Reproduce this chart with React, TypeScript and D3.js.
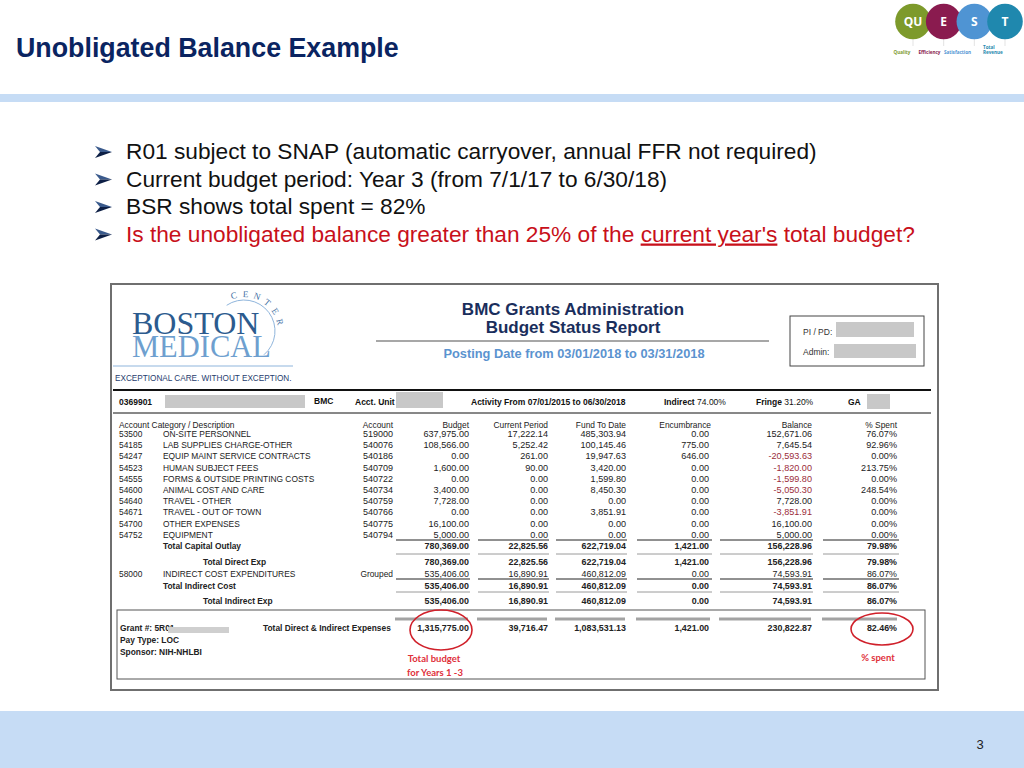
import * as d3 from 'd3'

// slide text
const bullets = [
  'R01 subject to SNAP (automatic carryover, annual FFR not required)',
  'Current budget period: Year 3 (from 7/1/17 to 6/30/18)',
  'BSR shows total spent = 82%',
]
const question = ['Is the unobligated balance greater than 25% of the ', "current year's", ' total budget?']

// report detail rows
const codes = ['53500', '54185', '54247', '54523', '54555', '54600', '54640', '54671', '54700', '54752']
const descriptions = [
  'ON-SITE PERSONNEL', 'LAB SUPPLIES CHARGE-OTHER', 'EQUIP MAINT SERVICE CONTRACTS', 'HUMAN SUBJECT FEES',
  'FORMS & OUTSIDE PRINTING COSTS', 'ANIMAL COST AND CARE', 'TRAVEL - OTHER', 'TRAVEL - OUT OF TOWN',
  'OTHER EXPENSES', 'EQUIPMENT',
]
const accounts = ['519000', '540076', '540186', '540709', '540722', '540734', '540759', '540766', '540775', '540794']
const budget = [637975, 108566, 0, 1600, 0, 3400, 7728, 0, 16100, 5000]
const currentPeriod = [17222.14, 5252.42, 261, 90, 0, 0, 0, 0, 0, 0]
const fundToDate = [485303.94, 100145.46, 19947.63, 3420, 1599.8, 8450.3, 0, 3851.91, 0, 0]
const encumbrance = [0, 775, 646, 0, 0, 0, 0, 0, 0, 0]
const balance = [152671.06, 7645.54, -20593.63, -1820, -1599.8, -5050.3, 7728, -3851.91, 16100, 5000]
const pctSpent = [76.07, 92.96, 0, 213.75, 0, 248.54, 0, 0, 0, 0]

// summary rows
const summaryLabels = ['Total Capital Outlay', 'Total Direct Exp', 'INDIRECT COST EXPENDITURES', 'Total Indirect Cost', 'Total Indirect Exp']
const summaryBudget = [780369, 780369, 535406, 535406, 535406]
const summaryCurrent = [22825.56, 22825.56, 16890.91, 16890.91, 16890.91]
const summaryFund = [622719.04, 622719.04, 460812.09, 460812.09, 460812.09]
const summaryEnc = [1421, 1421, 0, 0, 0]
const summaryBal = [156228.96, 156228.96, 74593.91, 74593.91, 74593.91]
const summaryPct = [79.98, 79.98, 86.07, 86.07, 86.07]

// grand total
const grandTotal = [1315775, 39716.47, 1083531.13, 1421, 230822.87, 82.46]

const columns = ['budget', 'current', 'fund', 'enc', 'bal', 'pct']
const columnHeaders = ['Budget', 'Current Period', 'Fund To Date', 'Encumbrance', 'Balance', '% Spent']

const questLetters = ['QU', 'E', 'S', 'T']
const questLabels = ['Quality', 'Efficiency', 'Satisfaction', 'Total Revenue']
const questColors = ['#7d9a2b', '#8a1b4f', '#4f94d3', '#1f88ae']

const SANS = 'Liberation Sans, Arial, sans-serif'
const num = d3.formatLocale({ decimal: '.', thousands: ',', grouping: [3], currency: ['$', ''], minus: '-' }).format(',.2f')
const pct = (v: number) => d3.format('.2f')(v) + '%'

export default function App() {
  // column right edges and underline spans
  const colX = d3.scaleOrdinal<string, number>().domain(columns).range([469, 548, 626, 709, 812, 897])
  const colStart = d3.scaleOrdinal<string, number>().domain(columns).range([396, 478, 556, 637, 720, 823])
  const colEnd = d3.scaleOrdinal<string, number>().domain(columns).range([470, 549, 627, 712, 813, 899])
  const rowY = d3.scaleLinear().domain([0, 1]).range([437, 448.2])
  const summarySlot = [10, 11.43, 12.5, 13.53, 14.87]
  const bulletY = d3.scaleLinear().domain([0, 1]).range([159, 186.5])
  const questX = d3.scalePoint<string>().domain(questLetters).range([913, 1005])
  const labelX = d3.scaleOrdinal<string, number>().domain(questLabels).range([902, 929.5, 957.5, 983])

  const detailCols = [budget, currentPeriod, fundToDate, encumbrance, balance]
  const summaryCols = [summaryBudget, summaryCurrent, summaryFund, summaryEnc, summaryBal]

  const arrow = (y: number) => {
    const x0 = 95
    return (
      <g key={'a' + y}>
        <path d={`M${x0},${y - 13} L${x0 + 17},${y - 7} L${x0 + 5},${y - 7} Z`} fill="#3a5a8c" />
        <path d={`M${x0 + 5},${y - 7} L${x0 + 17},${y - 7} L${x0},${y - 1} Z`} fill="#0d1f45" />
      </g>
    )
  }

  // CENTER arc
  const cx = 244, cy = 331
  const arcPath = d3.path()
  arcPath.arc(cx, cy, 31, (-124 * Math.PI) / 180, (50 * Math.PI) / 180)
  const centerLetters = 'CENTER'.split('')
  const letterAngle = d3.scaleLinear().domain([0, 5]).range([-106, -14])

  return (
    <svg width={1024} height={768} style={{ position: 'absolute', left: 0, top: 0, background: '#fff' }} fontFamily={SANS}>
      {/* header */}
      <text x={16} y={57} fontSize={26.8} fontWeight="bold" fill="#0a2461">Unobligated Balance Example</text>
      <rect x={0} y={94} width={1024} height={8} fill="#c6dcf5" />

      {/* QUEST logo */}
      {questLetters.map((q, i) => (
        <g key={q}>
          <line x1={questX(q)!} x2={questX(q)!} y1={30} y2={46} stroke="#d0d0d0" strokeWidth={0.6} />
          <circle cx={questX(q)!} cy={21.5} r={17.8} fill={questColors[i]} />
          <text x={questX(q)!} y={26} textAnchor="middle" fontFamily="Open Sans, sans-serif" fontSize={12} fontWeight="bold" fill="#fff">{q}</text>
        </g>
      ))}
      {questLabels.map((l, i) => {
        const x = labelX(l)
        return l === 'Total Revenue' ? (
          <text key={l} x={x} y={48.5} fontSize={4.6} fill={questColors[i]} fontFamily="Open Sans, sans-serif" fontWeight="bold">
            <tspan x={x}>Total</tspan><tspan x={x} dy={5.3}>Revenue</tspan>
          </text>
        ) : (
          <text key={l} x={x} y={54} textAnchor="middle" fontSize={4.6} fill={questColors[i]} fontFamily="Open Sans, sans-serif" fontWeight="bold">{l}</text>
        )
      })}

      {/* bullets */}
      {bullets.map((b, i) => (
        <g key={b}>
          {arrow(bulletY(i))}
          <text x={126} y={bulletY(i)} fontSize={22.7} fill="#111">{b}</text>
        </g>
      ))}
      {arrow(bulletY(3))}
      <text x={126} y={bulletY(3)} fontSize={22.7} fill="#c8101a">
        <tspan>{question[0]}</tspan>
        <tspan textDecoration="underline">{question[1]}</tspan>
        <tspan>{question[2]}</tspan>
      </text>

      {/* report image */}
      <rect x={111} y={284} width={827} height={406} fill="#fff" stroke="#6f6f6f" strokeWidth={2} />

      {/* Boston Medical logo */}
      <path d={arcPath.toString()} fill="none" stroke="#8fb5dc" strokeWidth={1} />
      {centerLetters.map((c, i) => {
        const a = (letterAngle(i) * Math.PI) / 180
        const r = 37
        const lx = cx + r * Math.cos(a), ly = cy + r * Math.sin(a)
        return (
          <text key={i} x={lx} y={ly} fontSize={9} fill="#3d6ea3" textAnchor="middle" dominantBaseline="central"
            fontFamily="Liberation Serif, serif" transform={`rotate(${letterAngle(i) + 90}, ${lx}, ${ly})`}>{c}</text>
        )
      })}
      <text fontFamily="Liberation Serif, serif">
        <tspan x={132} y={334} fontSize={32} fill="#2c5b8e">BOSTON</tspan>
        <tspan x={132} y={357} fontSize={30.5} fill="#6e9fcf">MEDICAL</tspan>
      </text>
      <line x1={113} x2={293} y1={366} y2={366} stroke="#8fb5dc" strokeWidth={1} />
      <text x={115} y={381} fontSize={8.2} fill="#1f3d6e">EXCEPTIONAL CARE. WITHOUT EXCEPTION.</text>

      <text x={573} y={314.5} textAnchor="middle" fontSize={17} fontWeight="bold" fill="#1a2e5c">BMC Grants Administration</text>
      <text x={573} y={333} textAnchor="middle" fontSize={17} fontWeight="bold" fill="#1a2e5c">Budget Status Report</text>
      <line x1={376} x2={769} y1={341} y2={341} stroke="#8a8a8a" strokeWidth={1.5} />
      <text x={574} y={357.5} textAnchor="middle" fontSize={12.8} fontWeight="bold" fill="#5b93cf">Posting Date from 03/01/2018 to 03/31/2018</text>

      <rect x={790} y={316} width={134} height={50} fill="none" stroke="#444" strokeWidth={1} />
      <text x={803} y={334.5} fontSize={8.5} fill="#333">PI / PD:</text>
      <rect x={836} y={322} width={78} height={15} fill="#c8c8c8" />
      <text x={803} y={355} fontSize={8.5} fill="#333">Admin:</text>
      <rect x={834} y={344} width={82} height={14} fill="#c8c8c8" />

      <line x1={113} x2={931} y1={390} y2={390} stroke="#111" strokeWidth={2} />
      <text x={119} y={405} fontSize={8.5} fontWeight="bold" fill="#111">0369901</text>
      <rect x={165} y={395} width={140} height={13} fill="#c8c8c8" />
      <text x={314} y={404} fontSize={8.5} fontWeight="bold" fill="#111">BMC</text>
      <text x={355} y={405} fontSize={8.5} fontWeight="bold" fill="#111">Acct. Unit</text>
      <rect x={396} y={392} width={47} height={16} fill="#c8c8c8" />
      <text x={471} y={405} fontSize={8.5} fontWeight="bold" fill="#111">Activity From 07/01/2015 to 06/30/2018</text>
      <text x={664} y={405} fontSize={8.5} fontWeight="bold" fill="#111">Indirect  <tspan fontWeight="normal">74.00%</tspan></text>
      <text x={756} y={405} fontSize={8.5} fontWeight="bold" fill="#111">Fringe  <tspan fontWeight="normal">31.20%</tspan></text>
      <text x={848} y={405} fontSize={8.5} fontWeight="bold" fill="#111">GA</text>
      <rect x={867} y={394} width={23} height={15} fill="#c8c8c8" />
      <line x1={113} x2={931} y1={413} y2={413} stroke="#111" strokeWidth={1} />

      {/* column headers */}
      <g fontSize={8.4} fill="#222">
        <text x={119} y={427.5}>Account Category / Description</text>
        <text x={393} y={427.5} textAnchor="end">Account</text>
        {columns.map((c, i) => (
          <text key={c} x={colX(c) + (c === 'enc' ? 2 : 0)} y={427.5} textAnchor="end">{columnHeaders[i]}</text>
        ))}
      </g>

      {/* detail rows */}
      <g fontSize={8.4} fill="#222">
        {codes.map((code, i) => (
          <g key={code}>
            <text x={119} y={rowY(i)}>{code}</text>
            <text x={163} y={rowY(i)}>{descriptions[i]}</text>
            <text x={393} y={rowY(i)} textAnchor="end" fontSize={9}>{accounts[i]}</text>
            {detailCols.map((col, j) => (
              <text key={j} x={colX(columns[j])} y={rowY(i)} textAnchor="end" fontSize={9.1} fill={col[i] < 0 ? '#9b2d3a' : '#222'}>{num(col[i])}</text>
            ))}
            <text x={colX('pct')} y={rowY(i)} textAnchor="end" fontSize={9.1}>{pct(pctSpent[i])}</text>
          </g>
        ))}
      </g>

      {/* summary underlines */}
      {[540, 579].map(y => columns.map(c => (
        <line key={y + c} x1={colStart(c)} x2={colEnd(c)} y1={y} y2={y} stroke="#222" strokeWidth={1} />
      )))}
      {[554, 592].map(y => columns.map(c => (
        <line key={y + c} x1={colStart(c)} x2={colEnd(c)} y1={y} y2={y} stroke="#9a9a9a" strokeWidth={1} />
      )))}

      {/* summary rows */}
      <g fontSize={8.4} fill="#222">
        {summaryLabels.map((label, i) => {
          const y = rowY(summarySlot[i])
          const isTotal = i !== 2
          const lx = i === 1 || i === 4 ? 203 : 163
          return (
            <g key={label} fontWeight={isTotal ? 'bold' : 'normal'}>
              {!isTotal && <text x={119} y={y}>58000</text>}
              <text x={lx} y={y}>{label}</text>
              {!isTotal && <text x={393} y={y} textAnchor="end">Grouped</text>}
              {summaryCols.map((col, j) => (
                <text key={j} x={colX(columns[j])} y={y} textAnchor="end" fontSize={8.9}>{num(col[i])}</text>
              ))}
              <text x={colX('pct')} y={y} textAnchor="end" fontSize={8.9}>{pct(summaryPct[i])}</text>
            </g>
          )
        })}
      </g>

      {/* grant box */}
      <rect x={117} y={610} width={808} height={69} fill="none" stroke="#555" strokeWidth={1} />
      {columns.map(c => (
        <line key={'g' + c} x1={colStart(c) - 1} x2={colEnd(c) - 2} y1={619} y2={619} stroke="#a3a3a3" strokeWidth={3} />
      ))}
      <g fontSize={8.4} fontWeight="bold" fill="#222">
        <text x={120} y={631}>Grant #: 5R01</text>
        <rect x={168} y={627} width={61} height={6} fill="#cfcfcf" />
        <text x={120} y={643}>Pay Type: LOC</text>
        <text x={120} y={655}>Sponsor: NIH-NHLBI</text>
        <text x={263} y={631}>Total Direct &amp; Indirect Expenses</text>
        {columns.map((c, j) => (
          <text key={c} x={colX(c)} y={631} textAnchor="end" fontSize={8.9}>{j === 5 ? pct(grandTotal[j]) : num(grandTotal[j])}</text>
        ))}
      </g>

      {/* annotations */}
      <ellipse cx={441} cy={630} rx={31} ry={20} fill="none" stroke="#d0202a" strokeWidth={1.6} />
      <ellipse cx={882} cy={629} rx={31} ry={16} fill="none" stroke="#d0202a" strokeWidth={1.6} />
      <g fontFamily="Lato, Open Sans, sans-serif" fontWeight="bold" fontSize={9.5} fill="#e0303a" textAnchor="middle">
        <text x={434} y={662}>Total budget</text>
        <text x={435} y={676}>for Years 1 -3</text>
        <text x={878} y={661}>% spent</text>
      </g>

      {/* footer */}
      <rect x={0} y={711} width={1024} height={57} fill="#c6dcf5" />
      <text x={980} y={749} textAnchor="middle" fontSize={13} fill="#222">3</text>
    </svg>
  )
}
